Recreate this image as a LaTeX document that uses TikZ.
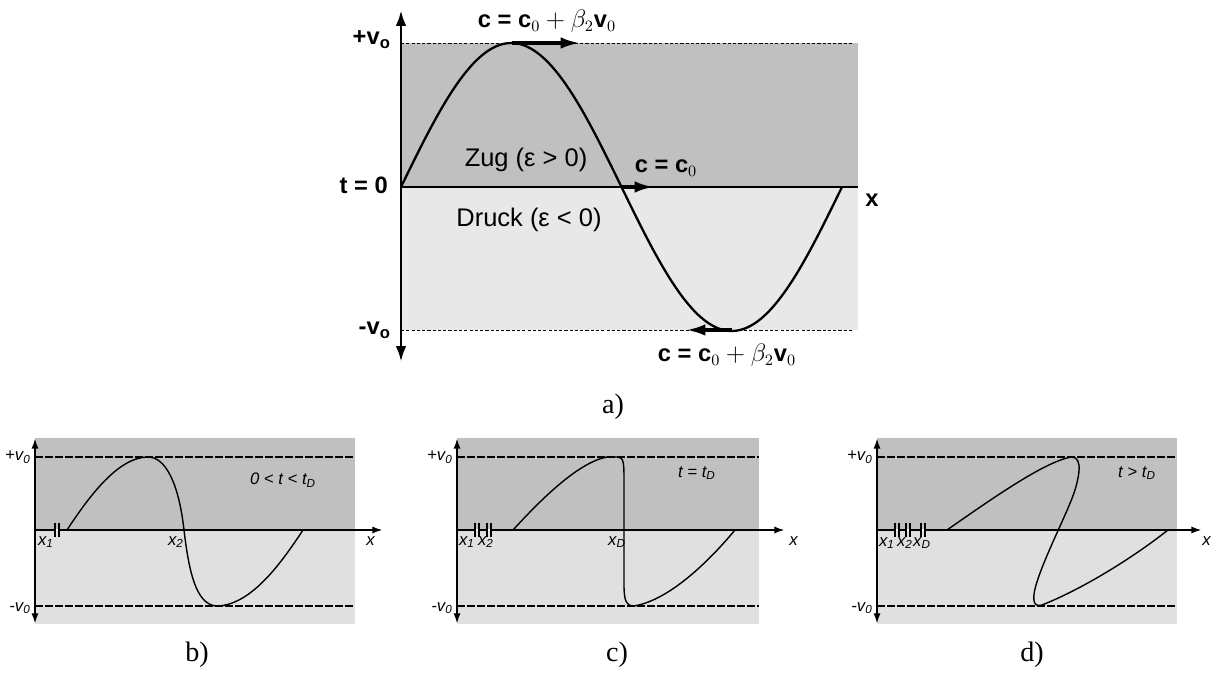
\documentclass[tikz,border=0pt]{standalone}
\usepackage{fontspec}
\setmainfont{Liberation Serif}
\setsansfont{Liberation Sans}
\usepackage{xcolor}
\usetikzlibrary{arrows.meta}
\definecolor{zuggray}{RGB}{192,192,192}
\definecolor{druckgray}{RGB}{232,232,232}
\definecolor{druckgrayb}{RGB}{224,224,224}
\tikzset{
  wvax/.style={line width=1.7pt, {Latex[length=9pt,width=6pt]}-{Latex[length=9pt,width=6pt]}},
  wvxax/.style={line width=1.7pt},
  wvvel/.style={line width=2pt, -{Latex[length=11pt,width=6.5pt]}},
  wvsin/.style={line width=1.3pt},
  wvdash/.style={line width=0.5pt, dash pattern=on 1.8pt off 1.2pt},
  wvsax/.style={line width=1.2pt, {Latex[length=6pt,width=4pt]}-{Latex[length=6pt,width=4pt]}},
  wvsxax/.style={line width=1.2pt, -{Latex[length=6pt,width=4pt]}},
  wvsdash/.style={line width=1.1pt, dash pattern=on 4.5pt off 1.2pt},
  wvcrv/.style={line width=0.8pt},
  wvlab/.style={font=\sffamily\fontsize{14.5}{16}\selectfont},
  wvbold/.style={font=\sffamily\bfseries\fontsize{13.5}{15}\selectfont},
  wvsm/.style={font=\sffamily\itshape\fontsize{9.5}{11}\selectfont, inner sep=0pt},
  wvcap/.style={font=\fontsize{16}{18}\selectfont}
}

\begin{document}
\begin{tikzpicture}[x=0.02cm, y=-0.02cm]
  \useasboundingbox (0,0) rectangle (1211,675);

  % a) main picture
  \fill[zuggray] (401,43) rectangle (858,187);
  \fill[druckgray] (401,187) rectangle (858,330);
  \draw[wvdash] (401,43) -- (853,43);
  \draw[wvdash] (401,330) -- (853,330);
  \coordinate (aTop) at (401,10);
  \coordinate (aBot) at (401,362);
  \coordinate (aOrig) at (401,187);
  \coordinate (aEnd) at (858,187);
  \draw[wvxax] (aOrig) -- (aEnd);
  \draw[wvax] (aTop) -- (aBot);
  \draw[wvsin] plot[domain=0:360, samples=90, smooth] ({401+1.225*\x},{187-144*sin(\x)});
  \coordinate (pk) at (512,43);
  \coordinate (pkR) at (580,43);
  \coordinate (zc) at (622,187);
  \coordinate (zcR) at (654,187);
  \coordinate (tr) at (732,330);
  \coordinate (trL) at (686,330);
  \draw[wvvel] (pk) -- (pkR);
  \draw[wvvel] (zc) -- (zcR);
  \draw[wvvel] (tr) -- (trL);

  \node[wvbold, anchor=base east] (vplus) at (397,45) {+v\textsubscript{o}};
  \node[wvbold, anchor=base east] (vminus) at (397,335) {-v\textsubscript{o}};
  \node[wvbold, anchor=base east] (tnull) at (394,194) {t = 0};
  \node[wvbold, anchor=base] (xlab) at (872,207) {x};
  \node[wvbold, anchor=base] (cTop) at (547,28) {c = c$_0+\beta_2$v$_0$};
  \node[wvbold, anchor=base] (cMid) at (666,173) {c = c$_0$};
  \node[wvbold, anchor=base] (cBot) at (727,362) {c = c$_0+\beta_2$v$_0$};
  \node[wvlab, anchor=base] (zug) at (526,167) {Zug (ε > 0)};
  \node[wvlab, anchor=base] (druck) at (529,227) {Druck (ε < 0)};
  \node[wvcap] (capA) at (613,407) {a)};

  % b) c) d) panels
  \foreach \ax/\rx/\tx/\lx/\nm in {35/355/383/366/b, 457/759/785/789/c, 877/1177/1202/1202/d} {
    \fill[zuggray] (\ax,438) rectangle (\rx,530);
    \fill[druckgrayb] (\ax,530) rectangle (\rx,624);
    \draw[wvsdash] (\ax,457) -- (\rx,457);
    \draw[wvsdash] (\ax,606) -- (\rx,606);
    \coordinate (top-\nm) at (\ax,438);
    \coordinate (bot-\nm) at (\ax,624);
    \coordinate (o-\nm) at (\ax,530);
    \coordinate (tip-\nm) at (\tx,530);
    \draw[wvsax] (top-\nm) -- (bot-\nm);
    \draw[wvsxax] (o-\nm) -- (tip-\nm);
    \node[wvsm, anchor=base east] (vp-\nm) at (\ax-4,461) {+v\textsubscript{0}};
    \node[wvsm, anchor=base east] (vm-\nm) at (\ax-4,611) {-v\textsubscript{0}};
    \node[wvsm, anchor=west] (x-\nm) at (\lx,541) {x};
  }

  % break marks on the x axes
  \foreach \bx in {57, 477, 489, 897, 908, 923} {
    \draw[line width=1pt] (\bx-2,523) -- (\bx-2,537);
    \draw[line width=1pt] (\bx+2,523) -- (\bx+2,537);
    \draw[white, line width=1.3pt] (\bx-1.4,530) -- (\bx+1.4,530);
  }

  % b)
  \draw[wvcrv] (67,530) .. controls (90,495) and (118,458) .. (147,457)
    .. controls (166,456) and (179,485) .. (184,530)
    .. controls (189,572) and (196,604) .. (216,606)
    .. controls (250,606) and (280,565) .. (303,530);
  \node[wvsm, anchor=base] (x1-b) at (46,545) {x\textsubscript{1}};
  \node[wvsm, anchor=base] (x2-b) at (176,545) {x\textsubscript{2}};
  \node[wvsm] (t-b) at (283,480) {0 < t < t\textsubscript{D}};
  \node[wvcap] (capB) at (197,655) {b)};

  % c)
  \draw[wvcrv] (513,530) .. controls (545,495) and (580,462) .. (607,457)
    -- (618,457) .. controls (624,457) and (624,465) .. (624,480)
    -- (624,585) .. controls (624,600) and (626,606) .. (634,606)
    .. controls (670,600) and (710,560) .. (735,530);
  \node[wvsm, anchor=base] (x1-c) at (467,545) {x\textsubscript{1}};
  \node[wvsm, anchor=base] (x2-c) at (486,545) {x\textsubscript{2}};
  \node[wvsm, anchor=base] (xD-c) at (617,545) {x\textsubscript{D}};
  \node[wvsm] (t-c) at (697,473) {t = t\textsubscript{D}};
  \node[wvcap] (capC) at (617,655) {c)};

  % d)
  \draw[wvcrv] (947,530) .. controls (990,500) and (1040,465) .. (1067,458)
    .. controls (1082,453) and (1081,470) .. (1075,490)
    .. controls (1068,512) and (1045,555) .. (1036,585)
    .. controls (1031,603) and (1035,607) .. (1042,605)
    .. controls (1080,590) and (1130,560) .. (1168,530);
  \node[wvsm, anchor=base] (x1-d) at (887,546) {x\textsubscript{1}};
  \node[wvsm, anchor=base] (x2-d) at (905,546) {x\textsubscript{2}};
  \node[wvsm, anchor=base] (xD-d) at (922,546) {x\textsubscript{D}};
  \node[wvsm] (t-d) at (1137,473) {t > t\textsubscript{D}};
  \node[wvcap] (capD) at (1032,655) {d)};
\end{tikzpicture}
\end{document}
